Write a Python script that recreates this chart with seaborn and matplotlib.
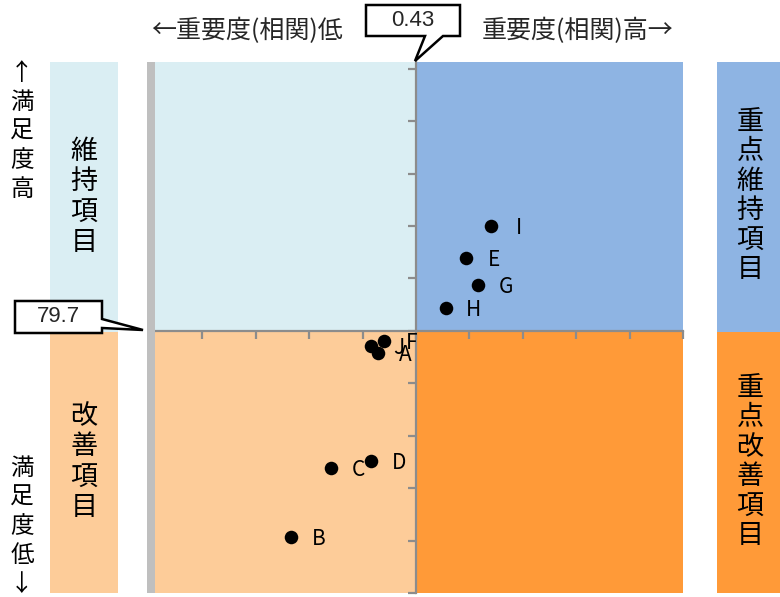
import matplotlib
matplotlib.use("Agg")
import matplotlib.pyplot as plt
from matplotlib.patches import Polygon, Rectangle
import seaborn as sns
import pandas as pd

# ---------------- data ----------------
labels = ["A", "B", "C", "D", "E", "F", "G", "H", "I", "J"]
importance = [0.394, 0.313, 0.350, 0.388, 0.477, 0.400, 0.488, 0.458, 0.500, 0.388]
satisfaction = [79.28, 75.77, 77.09, 77.22, 81.09, 79.51, 80.58, 80.14, 81.70, 79.41]
x_center = 0.43
y_center = 79.7
x_tick_step = 0.05
y_tick_step = 1.0
quadrant_names = ["維持項目", "改善項目", "重点維持項目", "重点改善項目"]
x_low_label = "←重要度(相関)低"
x_high_label = "重要度(相関)高→"
y_high_label = "↑満足度高"
y_low_label = "満足度低↓"

df = pd.DataFrame({"label": labels, "importance": importance, "satisfaction": satisfaction})

# ---------------- style ----------------
sns.set_theme(style="white")
plt.rcParams["font.family"] = ["Noto Sans CJK JP", "DejaVu Sans"]

W, H = 780, 597
fig = plt.figure(figsize=(W / 100, H / 100), dpi=100)


def fx(px):
    return px / W


def fy(py):
    return 1 - py / H


# axes placement (pixels)
ax_l, ax_r, ax_t, ax_b = 149, 683, 62, 593
ax = fig.add_axes([fx(ax_l), fy(ax_b), fx(ax_r) - fx(ax_l), fy(ax_t) - fy(ax_b)])

x_min = x_center - 5 * x_tick_step
x_max = x_center + 5 * x_tick_step
y_min = y_center - 5 * y_tick_step
y_max = y_center + 5 * y_tick_step + 0.13

C_TL = "#DAEEF3"
C_TR = "#8EB4E3"
C_BL = "#FDCC99"
C_BR = "#FF9A38"

# quadrant backgrounds
ax.add_patch(Rectangle((x_min, y_center), x_center - x_min, y_max - y_center, color=C_TL, zorder=0, lw=0))
ax.add_patch(Rectangle((x_center, y_center), x_max - x_center, y_max - y_center, color=C_TR, zorder=0, lw=0))
ax.add_patch(Rectangle((x_min, y_min), x_center - x_min, y_center - y_min, color=C_BL, zorder=0, lw=0))
ax.add_patch(Rectangle((x_center, y_min), x_max - x_center, y_center - y_min, color=C_BR, zorder=0, lw=0))

sns.scatterplot(data=df, x="importance", y="satisfaction", color="black", s=95,
                linewidth=0, zorder=5, ax=ax, legend=False)
for lab, xv, yv in zip(labels, importance, satisfaction):
    ax.annotate(lab, (xv, yv), xytext=(20, -1.5), textcoords="offset points",
                ha="center", va="center", fontsize=15, color="black", zorder=6)

ax.set_xlim(x_min, x_max)
ax.set_ylim(y_min, y_max)
ax.set_xticks([x_min + i * x_tick_step for i in range(11)])
ax.set_yticks([y_min + i * y_tick_step for i in range(11)])
ax.set_xlabel("")
ax.set_ylabel("")
ax.set_facecolor("none")
for s in ["top", "right"]:
    ax.spines[s].set_visible(False)
ax.spines["left"].set_position(("data", x_center))
ax.spines["bottom"].set_position(("data", y_center))
for s in ["left", "bottom"]:
    ax.spines[s].set_color("#8C8C8C")
    ax.spines[s].set_linewidth(1.6)
    ax.spines[s].set_zorder(3)
ax.tick_params(axis="both", which="major", direction="out", length=5.5, width=1.6,
               color="#8C8C8C", labelleft=False, labelbottom=False, left=True, bottom=True)

# gray bar at left edge
fig.patches.append(Rectangle((fx(147), fy(593)), fx(155) - fx(147), fy(62) - fy(593),
                             transform=fig.transFigure, color="#BFBFBF", zorder=1, lw=0))

# side boxes
def box(x0, x1, y0, y1, c):
    fig.patches.append(Rectangle((fx(x0), fy(y1)), fx(x1) - fx(x0), fy(y0) - fy(y1),
                                 transform=fig.transFigure, color=c, zorder=0, lw=0))

box(50, 118, 62, 332, C_TL)
box(50, 118, 332, 593, C_BL)
box(717, 780, 62, 332, C_TR)
box(717, 780, 332, 593, C_BR)

def vtext(x, y, s, va="center", size=18, ls=1.05):
    fig.text(fx(x), fy(y), "\n".join(s), ha="center", va=va, fontsize=size,
             linespacing=ls, color="black")

vtext(84, 197, quadrant_names[0], size=19.5, ls=1.15)
vtext(84, 462, quadrant_names[1], size=19.5, ls=1.15)
vtext(750, 196, quadrant_names[2], size=19.5, ls=1.12)
vtext(750, 462, quadrant_names[3], size=19.5, ls=1.12)
vtext(22, 62, y_high_label, va="top", size=17, ls=1.33)
vtext(22, 596, y_low_label, va="bottom", size=17, ls=1.33)

fig.text(fx(247), fy(31), x_low_label, ha="center", va="center", fontsize=18)
fig.text(fx(578), fy(31), x_high_label, ha="center", va="center", fontsize=18)

# callouts
def callout(pts, text, tx, ty):
    poly = Polygon([(fx(a), fy(b)) for a, b in pts], closed=True, transform=fig.transFigure,
                   facecolor="white", edgecolor="black", lw=1.8, zorder=10, joinstyle="miter")
    fig.patches.append(poly)
    fig.text(fx(tx), fy(ty), text, ha="center", va="center", fontsize=16,
             family=["Liberation Sans", "DejaVu Sans"], zorder=11)

callout([(366, 5), (460, 5), (460, 36), (443, 36), (415, 61), (425, 36), (366, 36)],
        f"{x_center:.2f}", 413, 20)
callout([(15, 301), (102, 301), (102, 319), (143, 330), (102, 328), (102, 333), (15, 333)],
        f"{y_center:.1f}", 58, 317)

fig.savefig("out.png", dpi=100)
